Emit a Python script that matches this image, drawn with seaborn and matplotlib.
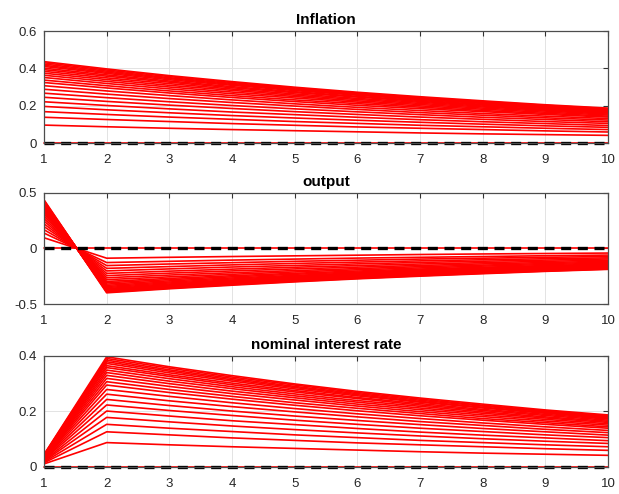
import pandas as pd
import seaborn as sns
import matplotlib.pyplot as plt

# impulse responses, one row per parameter value (first row = zero response)
periods = list(range(1, 11))

inflation = [
    [0.000, 0.000, 0.000, 0.000, 0.000, 0.000, 0.000, 0.000, 0.000, 0.000],
    [0.096, 0.087, 0.079, 0.072, 0.066, 0.060, 0.054, 0.049, 0.045, 0.041],
    [0.138, 0.126, 0.115, 0.104, 0.095, 0.086, 0.079, 0.072, 0.065, 0.059],
    [0.168, 0.153, 0.139, 0.127, 0.115, 0.105, 0.095, 0.087, 0.079, 0.072],
    [0.196, 0.178, 0.162, 0.147, 0.134, 0.122, 0.111, 0.101, 0.092, 0.084],
    [0.221, 0.201, 0.183, 0.166, 0.152, 0.138, 0.125, 0.114, 0.104, 0.094],
    [0.245, 0.223, 0.203, 0.185, 0.168, 0.153, 0.139, 0.127, 0.115, 0.105],
    [0.267, 0.243, 0.221, 0.201, 0.183, 0.167, 0.152, 0.138, 0.126, 0.114],
    [0.288, 0.262, 0.238, 0.217, 0.198, 0.180, 0.163, 0.149, 0.135, 0.123],
    [0.307, 0.279, 0.254, 0.231, 0.210, 0.191, 0.174, 0.158, 0.144, 0.131],
    [0.324, 0.295, 0.268, 0.244, 0.222, 0.202, 0.184, 0.168, 0.153, 0.139],
    [0.337, 0.307, 0.279, 0.254, 0.231, 0.211, 0.192, 0.174, 0.159, 0.144],
    [0.351, 0.319, 0.290, 0.264, 0.241, 0.219, 0.199, 0.181, 0.165, 0.150],
    [0.363, 0.330, 0.300, 0.273, 0.249, 0.226, 0.206, 0.187, 0.171, 0.155],
    [0.374, 0.340, 0.309, 0.282, 0.256, 0.233, 0.212, 0.193, 0.176, 0.160],
    [0.384, 0.349, 0.318, 0.289, 0.263, 0.239, 0.218, 0.198, 0.180, 0.164],
    [0.393, 0.358, 0.326, 0.296, 0.270, 0.246, 0.223, 0.203, 0.185, 0.168],
    [0.401, 0.365, 0.332, 0.302, 0.275, 0.250, 0.228, 0.207, 0.189, 0.172],
    [0.410, 0.373, 0.339, 0.309, 0.281, 0.256, 0.233, 0.212, 0.193, 0.175],
    [0.416, 0.379, 0.345, 0.314, 0.286, 0.260, 0.236, 0.215, 0.196, 0.178],
    [0.423, 0.385, 0.350, 0.319, 0.290, 0.264, 0.240, 0.219, 0.199, 0.181],
    [0.430, 0.391, 0.356, 0.324, 0.295, 0.268, 0.244, 0.222, 0.202, 0.184],
    [0.436, 0.397, 0.361, 0.329, 0.299, 0.272, 0.248, 0.226, 0.205, 0.187],
]

output = [
    [0.000, 0.000, 0.000, 0.000, 0.000, 0.000, 0.000, 0.000, 0.000, 0.000],
    [0.096, -0.087, -0.079, -0.072, -0.066, -0.060, -0.054, -0.049, -0.045, -0.041],
    [0.138, -0.126, -0.115, -0.104, -0.095, -0.086, -0.079, -0.072, -0.065, -0.059],
    [0.168, -0.153, -0.139, -0.127, -0.115, -0.105, -0.095, -0.087, -0.079, -0.072],
    [0.196, -0.178, -0.162, -0.147, -0.134, -0.122, -0.111, -0.101, -0.092, -0.084],
    [0.221, -0.201, -0.183, -0.166, -0.152, -0.138, -0.125, -0.114, -0.104, -0.094],
    [0.245, -0.223, -0.203, -0.185, -0.168, -0.153, -0.139, -0.127, -0.115, -0.105],
    [0.267, -0.243, -0.221, -0.201, -0.183, -0.167, -0.152, -0.138, -0.126, -0.114],
    [0.288, -0.262, -0.238, -0.217, -0.198, -0.180, -0.163, -0.149, -0.135, -0.123],
    [0.307, -0.279, -0.254, -0.231, -0.210, -0.191, -0.174, -0.158, -0.144, -0.131],
    [0.324, -0.295, -0.268, -0.244, -0.222, -0.202, -0.184, -0.168, -0.153, -0.139],
    [0.337, -0.307, -0.279, -0.254, -0.231, -0.211, -0.192, -0.174, -0.159, -0.144],
    [0.351, -0.319, -0.290, -0.264, -0.241, -0.219, -0.199, -0.181, -0.165, -0.150],
    [0.363, -0.330, -0.300, -0.273, -0.249, -0.226, -0.206, -0.187, -0.171, -0.155],
    [0.374, -0.340, -0.309, -0.282, -0.256, -0.233, -0.212, -0.193, -0.176, -0.160],
    [0.384, -0.349, -0.318, -0.289, -0.263, -0.239, -0.218, -0.198, -0.180, -0.164],
    [0.393, -0.358, -0.326, -0.296, -0.270, -0.246, -0.223, -0.203, -0.185, -0.168],
    [0.401, -0.365, -0.332, -0.302, -0.275, -0.250, -0.228, -0.207, -0.189, -0.172],
    [0.410, -0.373, -0.339, -0.309, -0.281, -0.256, -0.233, -0.212, -0.193, -0.175],
    [0.416, -0.379, -0.345, -0.314, -0.286, -0.260, -0.236, -0.215, -0.196, -0.178],
    [0.423, -0.385, -0.350, -0.319, -0.290, -0.264, -0.240, -0.219, -0.199, -0.181],
    [0.430, -0.391, -0.356, -0.324, -0.295, -0.268, -0.244, -0.222, -0.202, -0.184],
    [0.436, -0.397, -0.361, -0.329, -0.299, -0.272, -0.248, -0.226, -0.205, -0.187],
]

interest = [
    [0.000, 0.000, 0.000, 0.000, 0.000, 0.000, 0.000, 0.000, 0.000, 0.000],
    [0.010, 0.087, 0.079, 0.072, 0.066, 0.060, 0.054, 0.049, 0.045, 0.041],
    [0.014, 0.126, 0.115, 0.104, 0.095, 0.086, 0.079, 0.072, 0.065, 0.059],
    [0.017, 0.153, 0.139, 0.127, 0.115, 0.105, 0.095, 0.087, 0.079, 0.072],
    [0.020, 0.178, 0.162, 0.147, 0.134, 0.122, 0.111, 0.101, 0.092, 0.084],
    [0.022, 0.201, 0.183, 0.166, 0.152, 0.138, 0.125, 0.114, 0.104, 0.094],
    [0.025, 0.223, 0.203, 0.185, 0.168, 0.153, 0.139, 0.127, 0.115, 0.105],
    [0.027, 0.243, 0.221, 0.201, 0.183, 0.167, 0.152, 0.138, 0.126, 0.114],
    [0.029, 0.262, 0.238, 0.217, 0.198, 0.180, 0.163, 0.149, 0.135, 0.123],
    [0.031, 0.279, 0.254, 0.231, 0.210, 0.191, 0.174, 0.158, 0.144, 0.131],
    [0.032, 0.295, 0.268, 0.244, 0.222, 0.202, 0.184, 0.168, 0.153, 0.139],
    [0.034, 0.307, 0.279, 0.254, 0.231, 0.211, 0.192, 0.174, 0.159, 0.144],
    [0.035, 0.319, 0.290, 0.264, 0.241, 0.219, 0.199, 0.181, 0.165, 0.150],
    [0.036, 0.330, 0.300, 0.273, 0.249, 0.226, 0.206, 0.187, 0.171, 0.155],
    [0.037, 0.340, 0.309, 0.282, 0.256, 0.233, 0.212, 0.193, 0.176, 0.160],
    [0.038, 0.349, 0.318, 0.289, 0.263, 0.239, 0.218, 0.198, 0.180, 0.164],
    [0.039, 0.358, 0.326, 0.296, 0.270, 0.246, 0.223, 0.203, 0.185, 0.168],
    [0.040, 0.365, 0.332, 0.302, 0.275, 0.250, 0.228, 0.207, 0.189, 0.172],
    [0.041, 0.373, 0.339, 0.309, 0.281, 0.256, 0.233, 0.212, 0.193, 0.175],
    [0.042, 0.379, 0.345, 0.314, 0.286, 0.260, 0.236, 0.215, 0.196, 0.178],
    [0.042, 0.385, 0.350, 0.319, 0.290, 0.264, 0.240, 0.219, 0.199, 0.181],
    [0.043, 0.391, 0.356, 0.324, 0.295, 0.268, 0.244, 0.222, 0.202, 0.184],
    [0.044, 0.397, 0.361, 0.329, 0.299, 0.272, 0.248, 0.226, 0.205, 0.187],
]

baseline = [0.0] * 10

titles = ['Inflation', 'output', 'nominal interest rate']
ylims = [(0, 0.6), (-0.5, 0.5), (0, 0.4)]
yticks = [[0, 0.2, 0.4, 0.6], [-0.5, 0, 0.5], [0, 0.2, 0.4]]
ytick_labels = [['0', '0.2', '0.4', '0.6'], ['-0.5', '0', '0.5'], ['0', '0.2', '0.4']]


def to_long(table):
    df = pd.DataFrame(table, columns=periods)
    df['line'] = range(len(df))
    return df.melt(id_vars='line', var_name='period', value_name='value')


sns.set_style('white')
plt.rcParams['font.family'] = ['Liberation Sans', 'DejaVu Sans']

fig = plt.figure(figsize=(6.19, 4.94), dpi=100)
# axes boxes in figure fractions [left, bottom, width, height]
boxes = [[0.0711, 0.7105, 0.9111, 0.2267],
         [0.0711, 0.3840, 0.9111, 0.2260],
         [0.0711, 0.0553, 0.9111, 0.2241]]

base_df = pd.DataFrame({'period': periods, 'value': baseline})

for table, title, ylim, yt, ytl, box in zip([inflation, output, interest], titles,
                                            ylims, yticks, ytick_labels, boxes):
    ax = fig.add_axes(box)
    sns.lineplot(data=to_long(table), x='period', y='value', units='line',
                 estimator=None, color='red', lw=1.2, legend=False, ax=ax)
    sns.lineplot(data=base_df, x='period', y='value', color='black', lw=2.4, ax=ax)
    dash = ax.lines[-1]
    dash.set_dashes((3.0, 2.0))
    dash.set_clip_on(False)
    ax.lines[0].set_clip_on(False)

    ax.set_xlim(1, 10)
    ax.set_ylim(*ylim)
    ax.set_xticks(periods)
    ax.set_xticklabels([str(p) for p in periods])
    ax.set_yticks(yt)
    ax.set_yticklabels(ytl)
    ax.set_xlabel('')
    ax.set_ylabel('')
    ax.set_title(title, fontsize=11, fontweight='bold', pad=5, color='black')

    ax.grid(True, color='#e3e3e3', lw=0.7)
    ax.set_axisbelow(True)
    ax.tick_params(direction='in', top=True, right=True, length=3.5, width=0.8,
                   color='#333333', labelcolor='#262626', labelsize=9.5)
    ax.tick_params(axis='y', pad=5)
    ax.tick_params(axis='x', pad=8)
    for sp in ax.spines.values():
        sp.set_color('#4d4d4d')
        sp.set_linewidth(0.9)

plt.savefig('out.png', dpi=100)
